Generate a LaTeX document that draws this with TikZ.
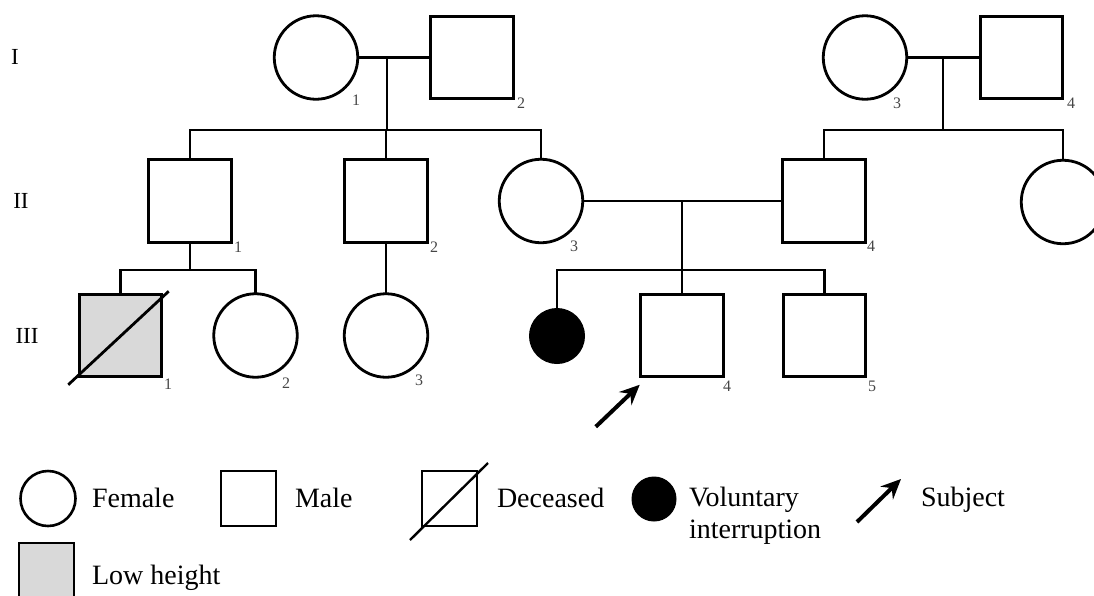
\documentclass[tikz,border=0pt]{standalone}
\usepackage{fontspec}
\setmainfont{Liberation Serif}
\usetikzlibrary{calc,arrows.meta}
\definecolor{lowgray}{RGB}{217,217,217}
\definecolor{numgray}{RGB}{70,70,70}
\begin{document}
\begin{tikzpicture}[x=1pt,y=-1pt,
  every node/.style={inner sep=0pt,outer sep=0pt},
  fem/.style={circle,draw,line width=2.8pt,minimum size=83.5pt,fill=white},
  mal/.style={rectangle,draw,line width=2.8pt,minimum size=82.5pt,fill=white},
  lowh/.style={mal,fill=lowgray},
  vint/.style={circle,draw,fill=black,line width=1pt,minimum size=55pt},
  lfem/.style={circle,draw,line width=2.6pt,minimum size=55pt},
  lmal/.style={rectangle,draw,line width=2.6pt,minimum size=55pt},
  lvint/.style={circle,draw,fill=black,line width=1pt,minimum size=44pt},
  link/.style={line width=2.8pt},
  slash/.style={line width=2.8pt},
  subjarrow/.style={line width=4pt,-{Stealth[length=20pt,width=18pt,inset=7pt]}},
  num/.style={font=\fontsize{16}{16}\selectfont,text=numgray},
  gen/.style={font=\fontsize{23}{23}\selectfont},
  legtext/.style={font=\fontsize{28}{30}\selectfont,anchor=base west}
]
\path[use as bounding box] (0,0) rectangle (1094,595);
\clip (0,0) rectangle (1094,595);

% generation labels
\node[gen] (gI) at (15,57) {I};
\node[gen] (gII) at (21,201) {II};
\node[gen] (gIII) at (27,336) {III};

% helper coordinates
\coordinate (s1) at (0,130);
\coordinate (s2) at (0,270);
\coordinate (m1) at (387,58);
\coordinate (m2) at (943,58);
\coordinate (m3) at (682,201);

% generation I
\node[fem] (I1) at (316,57.5) {};
\node[mal] (I2) at (472,57.5) {};
\node[fem] (I3) at (865,57.5) {};
\node[mal] (I4) at (1021.5,57.5) {};

% generation II
\node[mal] (II1) at (190,201) {};
\node[mal] (II2) at (386,201) {};
\node[fem] (II3) at (541,201) {};
\node[mal] (II4) at (824,201) {};
\node[fem] (II5) at (1063,202) {};

% generation III
\node[lowh] (III1) at (120.5,335.5) {};
\node[fem] (III2) at (255.5,335.5) {};
\node[fem] (III3) at (386,335.5) {};
\node[vint] (IIIv) at (557,336) {};
\node[mal] (III4) at (682,335.5) {};
\node[mal] (III5) at (824.5,335.5) {};

% marriages
\draw[link] (I1.east) -- (I2.west);
\draw[link] (I3.east) -- (I4.west);
\draw[link] (II3.east) -- (II4.west);

% descents and sibships
\draw[link] (m1) -- (m1 |- s1);
\draw[link] (II1.north) -- (II1.north |- s1) -- (II3.north |- s1) -- (II3.north);
\draw[link] (II2.north) -- (II2.north |- s1);

\draw[link] (m2) -- (m2 |- s1);
\draw[link] (II4.north) -- (II4.north |- s1) -- (II5.north |- s1) -- (II5.north);

\draw[link] (II1.south) -- (II1.south |- s2);
\draw[link] (III1.north) -- (III1.north |- s2) -- (III2.north |- s2) -- (III2.north);

\draw[link] (II2.south) -- (III3.north);

\draw[link] (m3) -- (m3 |- s2);
\draw[link] (IIIv.north) -- (IIIv.north |- s2) -- (III5.north |- s2) -- (III5.north);
\draw[link] (III4.north) -- (III4.north |- s2);

% deceased slash
\draw[slash] ($(III1.south west)+(-11,8)$) -- ($(III1.north east)+(7,-3)$);

% subject arrow
\coordinate (subjtail) at ($(III4.south west)+(-45,50)$);
\draw[subjarrow] (subjtail) -- ($(III4.south west)+(-1,8)$);

% individual numbers
\node[num] (nI1) at (356,100) {1};
\node[num] (nI2) at (521,103) {2};
\node[num] (nI3) at (897,103) {3};
\node[num] (nI4) at (1071,103) {4};
\node[num] (nII1) at (238,247) {1};
\node[num] (nII2) at (434,247) {2};
\node[num] (nII3) at (574,246) {3};
\node[num] (nII4) at (871,246) {4};
\node[num] (nIII1) at (168,384) {1};
\node[num] (nIII2) at (286,383) {2};
\node[num] (nIII3) at (419,380) {3};
\node[num] (nIII4) at (727,386) {4};
\node[num] (nIII5) at (872,386) {5};

% legend
\node[lfem] (Lf) at (48,498.5) {};
\node[legtext] (Lft) at (92,507) {Female};
\node[lmal] (Lm) at (248.5,498.5) {};
\node[legtext] (Lmt) at (295,507) {Male};
\node[lmal] (Ld) at (449.5,498.5) {};
\draw[slash,line width=2.4pt] ($(Ld.south west)+(-12,14)$) -- ($(Ld.north east)+(11,-8)$);
\node[legtext] (Ldt) at (497,507) {Deceased};
\node[lvint] (Lv) at (654,499) {};
\node[legtext] (Lvt) at (689,506) {Voluntary};
\node[legtext] (Lvt2) at (689,538) {interruption};
\coordinate (Latail) at (857,522);
\coordinate (Lahead) at (901,479);
\draw[subjarrow] (Latail) -- (Lahead);
\node[legtext] (Lst) at (921,506) {Subject};
\node[lmal,fill=lowgray] (Ll) at (46.5,570.5) {};
\node[legtext] (Llt) at (92,584) {Low height};
\end{tikzpicture}
\end{document}
